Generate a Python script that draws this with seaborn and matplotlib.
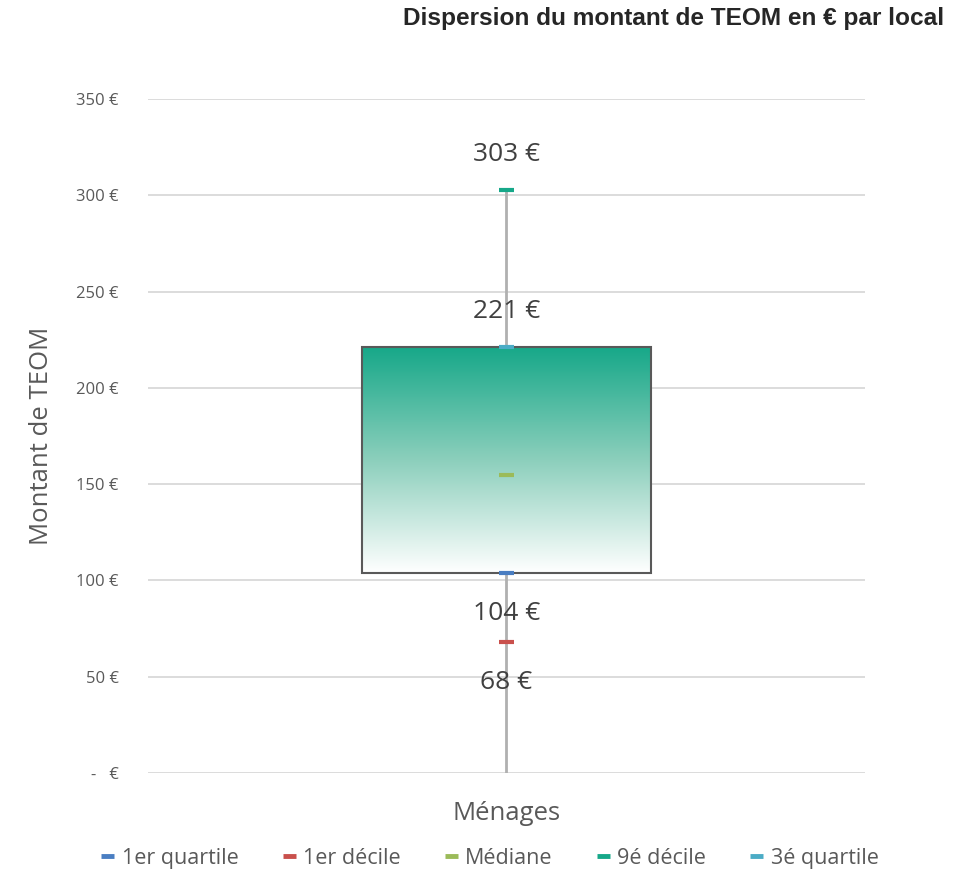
import numpy as np
import pandas as pd
import matplotlib.pyplot as plt
import seaborn as sns
from matplotlib.colors import LinearSegmentedColormap
from matplotlib.lines import Line2D
from matplotlib.patches import Rectangle

sns.set_style("white")
plt.rcParams["font.family"] = ["Open Sans", "DejaVu Sans"]

# data
category = "Ménages"
stat_names = ["1er quartile", "1er décile", "Médiane", "9é décile", "3é quartile"]
stat_values = [104, 68, 155, 303, 221]
stat_colors = ["#4A7EC2", "#C9504C", "#9BBB59", "#16A889", "#4BACC6"]
labelled = {"1er quartile": -29, "1er décile": -29, "9é décile": 25, "3é quartile": 26}
yticks = [0, 50, 100, 150, 200, 250, 300, 350]
ytick_labels = ["-   €", "50 €", "100 €", "150 €", "200 €", "250 €", "300 €", "350 €"]

df = pd.DataFrame({"groupe": category, "stat": stat_names, "valeur": stat_values})
vals = dict(zip(stat_names, stat_values))
q1, q3 = vals["1er quartile"], vals["3é quartile"]

fig = plt.figure(figsize=(9.59, 8.92), dpi=100)
ax = fig.add_axes([0.1543, 0.1334, 0.7477, 0.7556])
ax.set_xlim(-0.5, 0.5)
ax.set_ylim(0, 350)

# gridlines
for t in yticks:
    ax.axhline(t, color="#D9D9D9", lw=1.3, zorder=0)

# whisker from 0 to 9th decile
ax.plot([0, 0], [0, vals["9é décile"]], color="#B0B0B0", lw=2, zorder=1)

# box with gradient fill
half = 0.2015
cmap = LinearSegmentedColormap.from_list("g", ["#FFFFFF", "#8CCFBC", "#17A889"])
grad = np.linspace(0, 1, 256).reshape(-1, 1)
im = ax.imshow(grad, extent=[-half, half, q1, q3], origin="lower", aspect="auto",
               cmap=cmap, zorder=2)
box = Rectangle((-half, q1), 2 * half, q3 - q1, fill=False, edgecolor="#595959",
                lw=1.5, zorder=3)
ax.add_patch(box)
im.set_clip_path(box)

# stat markers
df["x"] = 0.0
sns.scatterplot(data=df, x="x", y="valeur", hue="stat", hue_order=stat_names,
                palette=dict(zip(stat_names, stat_colors)), marker="_", s=130,
                linewidth=3, ax=ax, legend=False, zorder=4)

# value labels
for name, off in labelled.items():
    v = vals[name]
    ax.annotate(f"{v} €", (0, v), xytext=(0, off), textcoords="offset points",
                ha="center", va="center", fontsize=19, color="#404040", zorder=5)

ax.set_yticks(yticks)
ax.set_yticklabels(ytick_labels)
ax.set_xticks([0])
ax.set_xticklabels([category])
ax.tick_params(axis="y", length=0, pad=21, labelsize=12, labelcolor="#595959")
ax.tick_params(axis="x", length=0, pad=20, labelsize=18.5, labelcolor="#595959")
ax.set_xlabel("")
ax.set_ylabel("Montant de TEOM", fontsize=18.5, color="#595959", labelpad=16)
sns.despine(ax=ax, left=True, bottom=True)

handles = [Line2D([], [], color=c, lw=3.5, solid_capstyle="butt") for c in stat_colors]
fig.legend(handles, stat_names, loc="center", bbox_to_anchor=(0.511, 0.038), ncol=5,
           frameon=False, fontsize=15.5, handlelength=0.6, columnspacing=2.05,
           handletextpad=0.35, labelcolor="#595959")

fig.text(0.985, 0.979, "Dispersion du montant de TEOM en € par local", ha="right",
         va="center", fontsize=17.6, fontweight="bold", family="Liberation Sans")

fig.savefig("out.png", dpi=100)
